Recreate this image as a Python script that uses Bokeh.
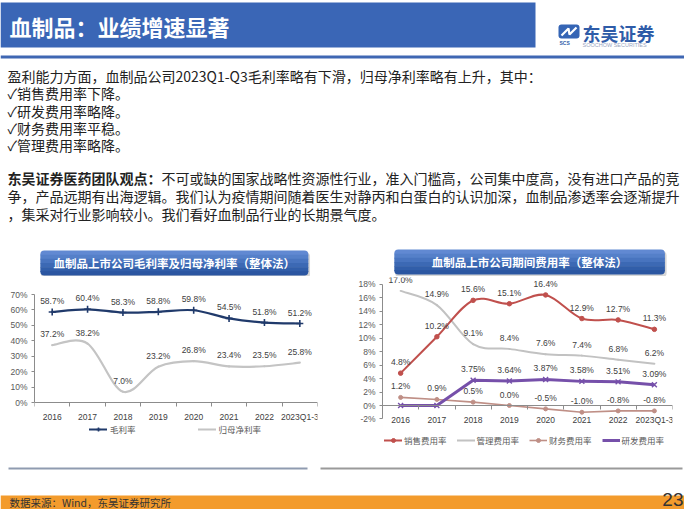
from bokeh.plotting import figure
from bokeh.models import (Range1d, FixedTicker, PrintfTickFormatter, ColumnDataSource,
                          LabelSet, Legend, LegendItem, BoxAnnotation)
from bokeh.layouts import column, row
from bokeh.core.properties import value
from bokeh.embed import file_html
from bokeh.resources import INLINE

# ---------------- data ----------------
categories = ["2016", "2017", "2018", "2019", "2020", "2021", "2022", "2023Q1-3"]
gross_margin = [58.7, 60.4, 58.3, 58.8, 59.8, 54.5, 51.8, 51.2]
net_margin = [37.2, 38.2, 7.0, 23.2, 26.8, 23.4, 23.5, 25.8]
selling_rate = [4.8, 10.2, 15.6, 15.1, 16.4, 12.9, 12.7, 11.3]
admin_rate = [17.0, 14.9, 9.1, 8.4, 7.6, 7.4, 6.8, 6.2]
finance_rate = [1.2, 0.9, 0.5, 0.0, -0.5, -1.0, -0.8, -0.8]
rd_rate = [0.0, 0.0, 3.75, 3.64, 3.87, 3.58, 3.51, 3.09]
left_ticks = [0, 10, 20, 30, 40, 50, 60, 70]
right_ticks = [-2, 0, 2, 4, 6, 8, 10, 12, 14, 16, 18]

title_text = "血制品：业绩增速显著"
body_lines = [
    "盈利能力方面，血制品公司2023Q1-Q3毛利率略有下滑，归母净利率略有上升，其中：",
    "✓销售费用率下降。",
    "✓研发费用率略降。",
    "✓财务费用率平稳。",
    "✓管理费用率略降。",
]
view_head = "东吴证券医药团队观点："
view_lines = [
    "不可或缺的国家战略性资源性行业，准入门槛高，公司集中度高，没有进口产品的竞",
    "争，产品远期有出海逻辑。我们认为疫情期间随着医生对静丙和白蛋白的认识加深，血制品渗透率会逐渐提升",
    "，集采对行业影响较小。我们看好血制品行业的长期景气度。",
]
left_title = "血制品上市公司毛利率及归母净利率（整体法）"
right_title = "血制品上市公司期间费用率（整体法）"
source_text = "数据来源：Wind，东吴证券研究所"
page_no = "23"

CJK = "Noto Sans CJK SC"
LAT = "Liberation Sans"


# ---------------- helpers ----------------
def deco_fig(x0, x1, y0, y1):
    p = figure(width=x1 - x0, height=y1 - y0, x_range=Range1d(x0, x1), y_range=Range1d(-y1, -y0),
               x_axis_type=None, y_axis_type=None, output_backend="svg", toolbar_location=None,
               tools="", min_border=0, min_border_left=0, min_border_right=0,
               min_border_top=0, min_border_bottom=0, outline_line_color=None)
    p.background_fill_color = "white"
    p.border_fill_color = "white"
    return p


def txt(p, x, y, s, size, color="#222222", bold=False, align="left", font=CJK, baseline="middle"):
    p.text(x=[x], y=[-y], text=[s], text_font=value(font), text_font_size=value(size),
           text_color=color, text_align=align, text_baseline=baseline,
           text_font_style="bold" if bold else "normal")


def box(p, l, r, t, b, color, alpha=1.0, radius=0):
    bx = BoxAnnotation(left=l, right=r, top=-t, bottom=-b, fill_color=color, fill_alpha=alpha,
                       line_alpha=0, border_radius=radius, level="underlay")
    p.add_layout(bx)


def title_box(p, l, r, t, b, text):
    box(p, l + 1, r + 2, t + 2, b + 2.5, "#8a8a8a", 0.35, 4)
    cols = ["#6189d2", "#5580c9", "#4874bf", "#3c69b4", "#315ea9", "#2b56a1"]
    n = len(cols)
    h = (b - t) / n
    for i, c in enumerate(cols):
        rad = (4, 4, 0, 0) if i == 0 else ((0, 0, 4, 4) if i == n - 1 else 0)
        box(p, l, r, t + i * h, t + (i + 1) * h + (0.6 if i < n - 1 else 0), c, 1.0, rad)
    txt(p, (l + r) / 2, (t + b) / 2, text, "11.5px", color="white", bold=True, align="center")


def smooth_source(xs, ys):
    n = len(xs)
    d = dict(x0=[], y0=[], x1=[], y1=[], cx0=[], cy0=[], cx1=[], cy1=[])
    for i in range(n - 1):
        i0 = max(i - 1, 0)
        i3 = min(i + 2, n - 1)
        d["x0"].append(xs[i]); d["y0"].append(ys[i])
        d["x1"].append(xs[i + 1]); d["y1"].append(ys[i + 1])
        d["cx0"].append(xs[i] + (xs[i + 1] - xs[i0]) / 6)
        d["cy0"].append(ys[i] + (ys[i + 1] - ys[i0]) / 6)
        d["cx1"].append(xs[i + 1] - (xs[i3] - xs[i]) / 6)
        d["cy1"].append(ys[i + 1] - (ys[i3] - ys[i]) / 6)
    return ColumnDataSource(d)


def style_axes(p, xs, yticks):
    p.xgrid.visible = False
    p.ygrid.visible = False
    ya = p.yaxis[0]
    ya.ticker = FixedTicker(ticks=yticks)
    ya.bounds = (yticks[0], yticks[-1])
    ya.formatter = PrintfTickFormatter(format="%d%%")
    ya.axis_line_color = "#8c8c8c"
    ya.major_tick_line_color = "#8c8c8c"
    ya.major_tick_out = 3
    ya.major_tick_in = 0
    ya.minor_tick_line_color = None
    ya.major_label_standoff = 4
    ya.major_label_text_font = LAT
    ya.major_label_text_font_size = "8.5px"
    ya.major_label_text_color = "#595959"
    xa = p.xaxis[0]
    xa.fixed_location = 0
    xa.ticker = FixedTicker(ticks=xs, minor_ticks=[i for i in range(len(xs) + 1)])
    xa.major_label_overrides = {x: c for x, c in zip(xs, categories)}
    xa.axis_line_color = "#8c8c8c"
    xa.major_tick_line_color = None
    xa.major_tick_out = 0
    xa.major_tick_in = 0
    xa.minor_tick_line_color = "#8c8c8c"
    xa.minor_tick_out = 4
    xa.minor_tick_in = 0
    xa.major_label_standoff = 5
    xa.major_label_text_font = LAT
    xa.major_label_text_font_size = "8.5px"
    xa.major_label_text_color = "#404040"


def labels(p, xs, ys, texts):
    src = ColumnDataSource(dict(x=xs, y=ys, t=texts))
    p.add_layout(LabelSet(x="x", y="y", text="t", source=src, text_align="center",
                          text_baseline="middle", y_offset=11, text_font=value(LAT),
                          text_font_size=value("8.5px"), text_color="#404040"))


def legend(items, loc, spacing, gw, standoff):
    return Legend(items=items, orientation="horizontal", location=loc, spacing=spacing,
                  glyph_width=gw, glyph_height=10, label_height=10, label_standoff=standoff,
                  padding=0, margin=0, border_line_color=None, background_fill_alpha=0,
                  label_text_font=CJK, label_text_font_size="8.5px", label_text_color="#595959")


xs = [i + 0.5 for i in range(len(categories))]

# ---------------- header ----------------
top = deco_fig(8, 692, 8, 250)
top.quad(left=[8], right=[543], top=[-10], bottom=[-55], fill_color="#3a66b6", line_color=None)
txt(top, 17, 33, title_text, "22px", color="white", bold=True)
# logo
box(top, 566, 587, 32, 46, "#3565b5", 1.0, 3)
top.line(x=[569, 576, 577, 584], y=[-43, -36, -42, -35], line_color="white", line_width=2.2)
txt(top, 567, 50.5, "SCS", "5px", color="#2f5ca8", bold=True, font=LAT)
txt(top, 590, 40, "东吴证券", "18px", color="#2f5ca8", bold=True)
txt(top, 590, 52, "SOOCHOW SECURITIES", "5.5px", color="#9aa6bf", font=LAT)
top.quad(left=[8], right=[692], top=[-63], bottom=[-66], fill_color="#3f67b3", line_color=None)
# body text
body_y = [83, 100.5, 118, 135, 152]
for yy, s in zip(body_y, body_lines):
    txt(top, 15, yy, s, "14px")
view_y = [185, 203, 221]
txt(top, 15, view_y[0], view_head, "14px", bold=True)
txt(top, 15 + 14 * len(view_head), view_y[0], view_lines[0], "14px")
txt(top, 15, view_y[1], view_lines[1], "14px")
txt(top, 15, view_y[2], view_lines[2], "14px")

# ---------------- left panel ----------------
tl = deco_fig(8, 348, 250, 284)
title_box(tl, 15, 337, 258, 283, left_title)

pl = figure(width=340, height=190, x_range=Range1d(0, len(categories)), y_range=Range1d(-29.16, 73.89),
            output_backend="svg", toolbar_location=None, tools="",
            min_border_left=34, min_border_right=23, min_border_top=12, min_border_bottom=19,
            outline_line_color=None)
style_axes(pl, xs, left_ticks)
navy = "#203a6b"
grey_l = "#c4c4c4"
r_net = pl.bezier(x0="x0", y0="y0", x1="x1", y1="y1", cx0="cx0", cy0="cy0", cx1="cx1", cy1="cy1",
                  source=smooth_source(xs, net_margin), line_color=grey_l, line_width=2.2, line_cap="round")
r_gross = pl.bezier(x0="x0", y0="y0", x1="x1", y1="y1", cx0="cx0", cy0="cy0", cx1="cx1", cy1="cy1",
                    source=smooth_source(xs, gross_margin), line_color=navy, line_width=2.2, line_cap="round")
r_gross_m = pl.scatter(xs, gross_margin, marker="cross", size=7, line_color=navy, line_width=1.6)
labels(pl, xs, gross_margin, [f"{v:.1f}%" for v in gross_margin])
labels(pl, xs, net_margin, [f"{v:.1f}%" for v in net_margin])
pl.add_layout(legend([LegendItem(label="毛利率", renderers=[r_gross, r_gross_m]),
                      LegendItem(label="归母净利率", renderers=[r_net])],
                     (55, 12), 62, 18, 3))

# ---------------- right panel ----------------
tr = deco_fig(348, 692, 250, 284)
title_box(tr, 362, 683, 257, 282, right_title)

pr = figure(width=344, height=190, x_range=Range1d(0, len(categories)), y_range=Range1d(-6.23, 18.99),
            output_backend="svg", toolbar_location=None, tools="",
            min_border_left=42, min_border_right=12, min_border_top=1, min_border_bottom=19,
            outline_line_color=None)
style_axes(pr, xs, right_ticks)
red = "#c0504d"
grey_r = "#c2c2c2"
fin_c = "#bf8f86"
purple = "#7650aa"
r_admin = pr.bezier(x0="x0", y0="y0", x1="x1", y1="y1", cx0="cx0", cy0="cy0", cx1="cx1", cy1="cy1",
                    source=smooth_source(xs, admin_rate), line_color=grey_r, line_width=2.0, line_cap="round")
r_fin = pr.line(xs, finance_rate, line_color=fin_c, line_width=1.6)
r_fin_m = pr.scatter(xs, finance_rate, marker="circle", size=4, fill_color=fin_c, line_color=fin_c)
r_rd = pr.line(xs, rd_rate, line_color=purple, line_width=3)
r_rd_m = pr.scatter(xs, rd_rate, marker="x", size=7, line_color=purple, line_width=1.4)
r_sell = pr.bezier(x0="x0", y0="y0", x1="x1", y1="y1", cx0="cx0", cy0="cy0", cx1="cx1", cy1="cy1",
                   source=smooth_source(xs, selling_rate), line_color=red, line_width=2.0, line_cap="round")
r_sell_m = pr.scatter(xs, selling_rate, marker="circle", size=4.5, fill_color=red, line_color=red)
labels(pr, xs, selling_rate, [f"{v:.1f}%" for v in selling_rate])
labels(pr, xs, admin_rate, [f"{v:.1f}%" for v in admin_rate])
labels(pr, xs, finance_rate, [f"{v:.1f}%" for v in finance_rate])
labels(pr, xs, rd_rate, [f"{v:.2f}%" if v else "" for v in rd_rate])
pr.add_layout(legend([LegendItem(label="销售费用率", renderers=[r_sell, r_sell_m]),
                      LegendItem(label="管理费用率", renderers=[r_admin]),
                      LegendItem(label="财务费用率", renderers=[r_fin, r_fin_m]),
                      LegendItem(label="研发费用率", renderers=[r_rd])],
                     (2, 1), 10, 18, 2))

# ---------------- footer ----------------
bot = deco_fig(8, 692, 474, 517)
bot.quad(left=[16], right=[315], top=[-475], bottom=[-477], fill_color="#8f9bb0", line_color=None)
bot.quad(left=[328], right=[690], top=[-475], bottom=[-477], fill_color="#9a9a9a", line_color=None)
bot.quad(left=[8], right=[692], top=[-503], bottom=[-517], fill_color="#f39b2c", line_color=None)
txt(bot, 17, 509.5, source_text, "10.5px", color="#333333")
txt(bot, 691, 507, page_no, "19px", color="#333333", align="right", font=LAT)

layout = column(
    top,
    row(column(tl, pl, spacing=0), column(tr, pr, spacing=0), spacing=0),
    bot,
    spacing=0,
)

open("out.html", "w").write(file_html(layout, INLINE))
